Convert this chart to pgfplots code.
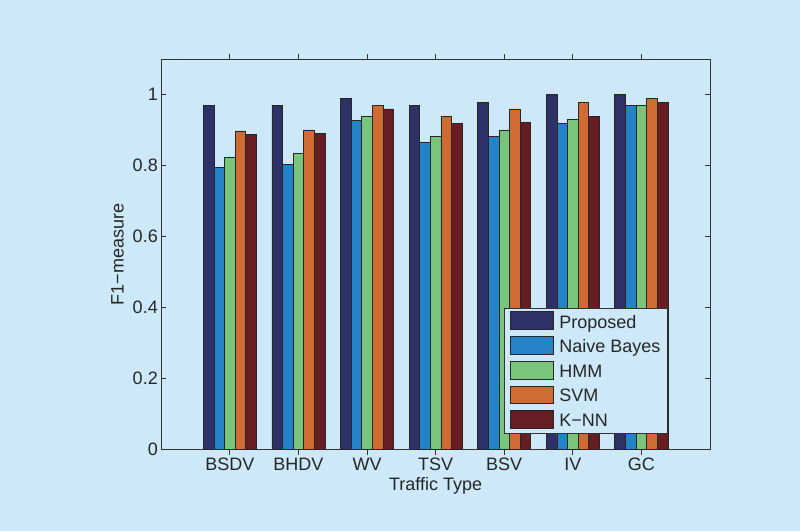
\documentclass[border=0pt]{standalone}
\usepackage{fontspec}
\setmainfont{Liberation Sans}
\usepackage{pgfplots}
\pgfplotsset{compat=1.18}
\definecolor{bg}{HTML}{CDE8F8}
\definecolor{cprop}{HTML}{2E3168}
\definecolor{cnb}{HTML}{2383C6}
\definecolor{chmm}{HTML}{7BC47C}
\definecolor{csvm}{HTML}{D06B34}
\definecolor{cknn}{HTML}{661E22}
\begin{document}
\begin{tikzpicture}[x=1pt,y=1pt]
\fill[bg] (0,0) rectangle (800,531);
\begin{axis}[
  at={(161.3pt,81.3pt)}, anchor=south west,
  scale only axis, width=548.7pt, height=390.4pt,
  xmin=0, xmax=8, ymin=0, ymax=1.1,
  xtick={1,2,3,4,5,6,7}, xticklabels={BSDV,BHDV,WV,TSV,BSV,IV,GC},
  ytick={0,0.2,0.4,0.6,0.8,1}, yticklabels={0,0.2,0.4,0.6,0.8,1},
  tick align=inside, major tick length=5pt,
  axis line style={black!80, line width=0.8pt},
  tick style={black!80, line width=0.8pt},
  ticklabel style={font=\fontsize{18}{21}\selectfont, text=black!85},
  xlabel={Traffic Type}, ylabel={F1−measure},
  label style={font=\fontsize{18}{21}\selectfont, text=black!85},
  xlabel style={yshift=0pt},
  ylabel style={yshift=2pt},
  ybar=0pt, bar width=0.155,
  every axis plot/.append style={draw=black!85, line width=0.7pt},
  legend image code/.code={\draw[#1] (0pt,-7pt) rectangle (43pt,10.5pt); \path (47pt,0pt);},
  legend cell align=left,
  legend style={at={(0.625,0.042)}, anchor=south west, draw=black!80, line width=0.8pt, fill=bg,
    font=\fontsize{18}{21}\selectfont, text=black!85, row sep=4.7pt, inner xsep=5pt, inner ysep=3pt},
]
\addplot[fill=cprop, bar shift=-0.31] coordinates {(1,0.970) (2,0.970) (3,0.989) (4,0.970) (5,0.979) (6,1.000) (7,1.000)};
\addplot[fill=cnb, bar shift=-0.155] coordinates {(1,0.795) (2,0.804) (3,0.928) (4,0.865) (5,0.882) (6,0.920) (7,0.969)};
\addplot[fill=chmm, bar shift=0] coordinates {(1,0.824) (2,0.834) (3,0.938) (4,0.882) (5,0.901) (6,0.930) (7,0.969)};
\addplot[fill=csvm, bar shift=0.155] coordinates {(1,0.898) (2,0.901) (3,0.969) (4,0.940) (5,0.960) (6,0.979) (7,0.990)};
\addplot[fill=cknn, bar shift=0.31] coordinates {(1,0.888) (2,0.891) (3,0.960) (4,0.920) (5,0.921) (6,0.939) (7,0.979)};
\legend{Proposed,Naive Bayes,HMM,SVM,K−NN}
\end{axis}
\pgfresetboundingbox
\useasboundingbox (0,0) rectangle (800,531);
\end{tikzpicture}
\end{document}
